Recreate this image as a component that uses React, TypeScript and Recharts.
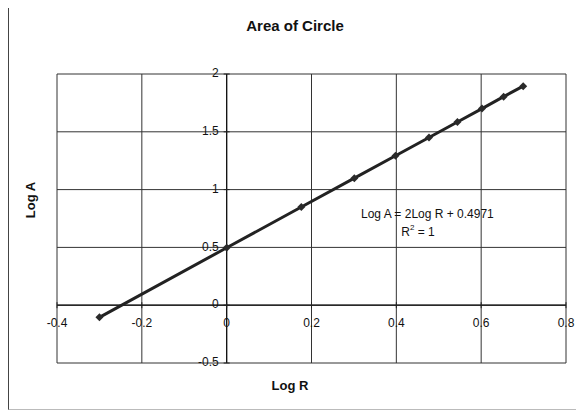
import React from "react";
import {
  CartesianGrid,
  Customized,
  ReferenceDot,
  ReferenceLine,
  Scatter,
  ScatterChart,
  XAxis,
  YAxis,
} from "recharts";

// values
const logR = [-0.3, 0, 0.176, 0.301, 0.398, 0.477, 0.544, 0.602, 0.653, 0.699];
const logA = [-0.105, 0.497, 0.849, 1.099, 1.293, 1.451, 1.585, 1.701, 1.804, 1.895];
const xTicks = [-0.4, -0.2, 0, 0.2, 0.4, 0.6, 0.8];
const yTicks = [-0.5, 0, 0.5, 1, 1.5, 2];
const xLabels = ["-0.4", "-0.2", "0", "0.2", "0.4", "0.6", "0.8"];
const yLabels = ["-0.5", "0", "0.5", "1", "1.5", "2"];

const points = logR.map((x, i) => ({ x, y: logA[i] }));

const FONT = "'Liberation Sans', Arial, sans-serif";

const Diamond = (props: any) => {
  const { cx, cy } = props;
  const r = 4;
  return (
    <path
      d={`M${cx},${cy - r}L${cx + r},${cy}L${cx},${cy + r}L${cx - r},${cy}Z`}
      fill="#2a2a2a"
    />
  );
};

const XTick = (label: string) => (props: any) => {
  const { cx, cy } = props;
  return (
    <g>
      <line x1={cx} x2={cx} y1={cy - 3} y2={cy + 3} stroke="#222" />
      <text
        x={cx}
        y={cy + 19}
        textAnchor="middle"
        dominantBaseline="middle"
        fontSize={12}
        fontFamily={FONT}
        fill="#111"
      >
        {label}
      </text>
    </g>
  );
};

const YTick = (label: string) => (props: any) => {
  const { cx, cy } = props;
  return (
    <g>
      <line x1={cx - 3} x2={cx + 3} y1={cy} y2={cy} stroke="#222" />
      <text
        x={cx - 8}
        y={cy}
        textAnchor="end"
        dominantBaseline="middle"
        fontSize={12}
        fontFamily={FONT}
        fill="#111"
      >
        {label}
      </text>
    </g>
  );
};

const Texts = () => (
  <g fontFamily={FONT} fill="#111">
    <text x={286} y={21} textAnchor="middle" dominantBaseline="middle" fontSize={15} fontWeight="bold">
      Area of Circle
    </text>
    <text
      x={23}
      y={194}
      textAnchor="middle"
      dominantBaseline="middle"
      fontSize={13}
      fontWeight="bold"
      transform="rotate(-90 23 194)"
    >
      Log A
    </text>
    <text x={281} y={381} textAnchor="middle" dominantBaseline="middle" fontSize={13} fontWeight="bold">
      Log R
    </text>
    <text x={352} y={209} dominantBaseline="middle" fontSize={12}>
      Log A = 2Log R + 0.4971
    </text>
    <text x={409} y={227} textAnchor="middle" dominantBaseline="middle" fontSize={12}>
      R<tspan fontSize={8} dy={-5}>2</tspan>
      <tspan dy={5}> = 1</tspan>
    </text>
  </g>
);

export default function App() {
  return (
    <div
      style={{
        marginTop: -3,
        width: 590,
        height: 403,
        borderLeft: "1px solid #444",
        borderTop: "1px solid #444",
        borderBottom: "1px solid #bbb",
        background: "#fff",
      }}
    >
      <ScatterChart
        width={575}
        height={403}
        margin={{ top: 68, left: 48, right: 18, bottom: 46 }}
      >
        <CartesianGrid stroke="#333" strokeWidth={1} />
        <XAxis
          type="number"
          dataKey="x"
          domain={[-0.4, 0.8]}
          ticks={xTicks}
          hide
        />
        <YAxis
          type="number"
          dataKey="y"
          domain={[-0.5, 2]}
          ticks={yTicks}
          hide
        />
        <ReferenceLine x={0} stroke="#111" strokeWidth={1.2} />
        <ReferenceLine y={0} stroke="#111" strokeWidth={1.2} />
        {xTicks.map((v, i) => (
          <ReferenceDot key={"x" + i} x={v} y={0} r={0} shape={XTick(xLabels[i])} />
        ))}
        {yTicks.map((v, i) => (
          <ReferenceDot key={"y" + i} x={0} y={v} r={0} shape={YTick(yLabels[i])} />
        ))}
        <Scatter
          data={points}
          line={{ stroke: "#222", strokeWidth: 3 }}
          shape={<Diamond />}
          isAnimationActive={false}
        />
        <Customized component={Texts} />
      </ScatterChart>
    </div>
  );
}
